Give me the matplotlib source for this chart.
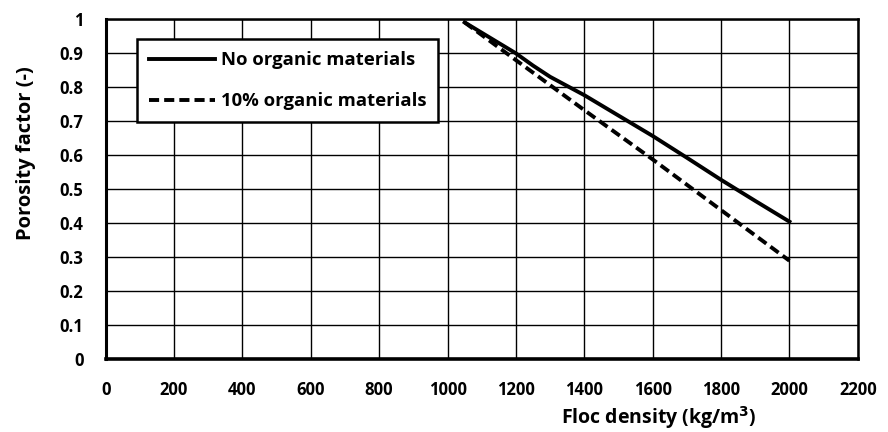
import matplotlib
matplotlib.use("Agg")
from matplotlib import pyplot as plt

plt.rcParams['font.family'] = ['Open Sans', 'DejaVu Sans']
plt.rcParams['font.weight'] = 'bold'

# данные
density_no = [1050, 1200, 1250, 1300, 1400, 1500, 1600, 1700, 1800, 1900, 2000]
porosity_no = [0.99, 0.899, 0.863, 0.83, 0.776, 0.716, 0.656, 0.592, 0.527, 0.465, 0.404]
density_org = [1050, 1200, 1400, 1600, 1800, 2000]
porosity_org = [0.99, 0.879, 0.732, 0.587, 0.438, 0.289]
label_no = 'No organic materials'
label_org = '10% organic materials'

fig = plt.figure(figsize=(8.88, 4.32), dpi=100)
ax = fig.add_axes([0.119, 0.169, 0.847, 0.787])

ax.plot(density_no, porosity_no, color='black', lw=2.8, label=label_no)
ax.plot(density_org, porosity_org, color='black', lw=2.8, ls=(0, (2.6, 1.3)), label=label_org)

ax.set_xlim(0, 2200)
ax.set_ylim(0, 1)
ax.set_xticks(range(0, 2201, 200))
ax.set_yticks([i / 10 for i in range(11)])
ax.set_yticklabels(['0', '0.1', '0.2', '0.3', '0.4', '0.5', '0.6', '0.7', '0.8', '0.9', '1'])
ax.tick_params(axis='x', length=0, labelsize=12, pad=16)
ax.tick_params(axis='y', length=0, labelsize=12, pad=16)
for t in ax.get_xticklabels() + ax.get_yticklabels():
    t.set_fontweight('bold')
ax.grid(True, color='black', lw=1)
ax.set_axisbelow(True)
for s in ax.spines.values():
    s.set_linewidth(1.8)
ax.spines['bottom'].set_linewidth(2.6)
ax.spines['left'].set_linewidth(2.2)

ax.set_xlabel('Floc density (kg/m$^\\mathbf{3}$)', fontsize=14, fontweight='bold')
ax.xaxis.set_label_coords(0.735, -0.134)
ax.set_ylabel('Porosity factor (-)', fontsize=14.5, fontweight='bold')
ax.yaxis.set_label_coords(-0.092, 0.606)

leg = ax.legend(loc='upper left', bbox_to_anchor=(0.041, 0.941), borderaxespad=0,
                prop={'weight': 'bold', 'size': 13.3},
                frameon=True, fancybox=False, edgecolor='black', framealpha=1,
                handlelength=3.6, handletextpad=0.3, labelspacing=1.25, borderpad=0.65)
leg.get_frame().set_linewidth(1.8)

fig.savefig('out.png', dpi=100)
